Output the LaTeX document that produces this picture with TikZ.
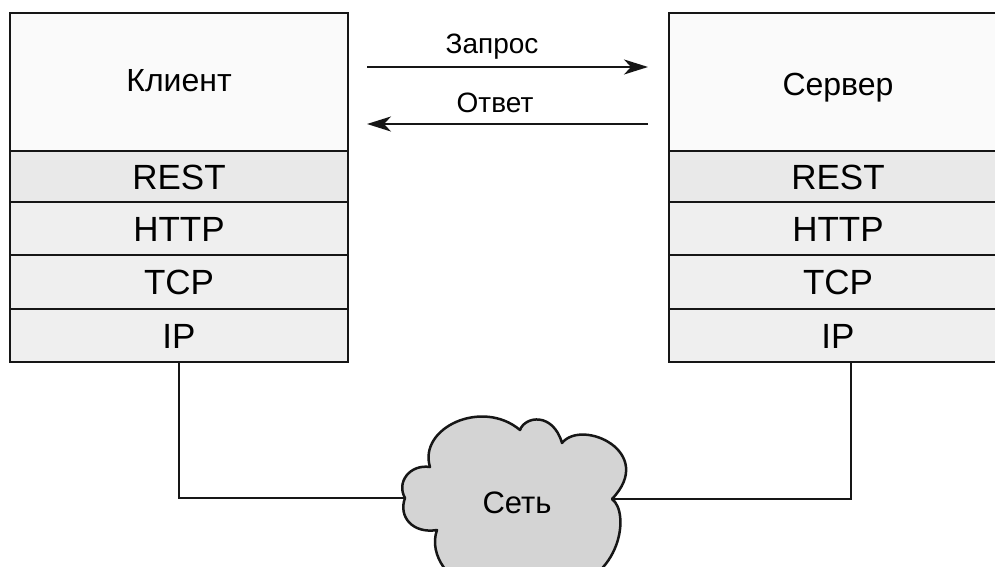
\documentclass[tikz,border=0pt]{standalone}
\usepackage{fontspec}
\setmainfont{Liberation Sans}
\usetikzlibrary{arrows.meta}
\definecolor{edge}{HTML}{161616}
\definecolor{titlefill}{HTML}{FAFAFA}
\definecolor{restfill}{HTML}{E9E9E9}
\definecolor{layerfill}{HTML}{EFEFEF}
\definecolor{cloudfill}{HTML}{D4D4D4}
\begin{document}
\begin{tikzpicture}[x=1pt,y=-1pt,
  box/.style={draw=edge, line width=2.1pt, minimum width=338pt, inner sep=0pt,
    outer sep=0pt, anchor=north west, text height=25pt, text depth=0pt,
    font=\fontsize{35}{40}\selectfont, fill=layerfill},
  titlebox/.style={box, minimum height=138.3pt, fill=titlefill,
    text height=23pt, font=\fontsize{32}{38}\selectfont},
  msg/.style={inner sep=0pt, text height=20pt, text depth=0pt,
    font=\fontsize{28}{32}\selectfont},
  flow/.style={draw=edge, line width=2.1pt,
    -{Stealth[length=24pt,width=15pt,inset=7pt]}},
  wire/.style={draw=edge, line width=2.1pt}]
\clip (0,0) rectangle (995,567);
\fill[white] (0,0) rectangle (995,567);

% client protocol stack
\node[titlebox, text depth=3pt] (client) at (10,12.7) {Клиент};
\node[box, minimum height=51pt, fill=restfill] (restL) at (10,151) {REST};
\node[box, minimum height=53pt] (httpL) at (10,202) {HTTP};
\node[box, minimum height=54pt] (tcpL) at (10,255) {TCP};
\node[box, minimum height=53pt] (ipL) at (10,309) {IP};

% server protocol stack
\node[titlebox, text height=27pt] (server) at (669,12.7) {Сервер};
\node[box, minimum height=51pt, fill=restfill] (restR) at (669,151) {REST};
\node[box, minimum height=53pt] (httpR) at (669,202) {HTTP};
\node[box, minimum height=54pt] (tcpR) at (669,255) {TCP};
\node[box, minimum height=53pt] (ipR) at (669,309) {IP};

% request / response
\coordinate (reqS) at (367,67);
\coordinate (reqE) at (648,67);
\coordinate (resS) at (648,124);
\coordinate (resE) at (367,124);
\draw[flow] (reqS) -- (reqE);
\draw[flow] (resS) -- (resE);
\node[msg] (reqLabel) at (492,44) {Запрос};
\node[msg] (resLabel) at (495,103) {Ответ};

% network cloud
\coordinate (cloudW) at (405,498);
\coordinate (cloudE) at (612,499);
\filldraw[draw=edge, fill=cloudfill, line width=2.5pt, line join=round]
  (cloudW)
  .. controls (396,482) and (410,464) .. (430,467)
  .. controls (418,428) and (482,398) .. (520,430)
  .. controls (525,416) and (553,412) .. (562,443)
  .. controls (582,418) and (657,452) .. (cloudE)
  .. controls (630,512) and (622,580) .. (560,590)
  .. controls (545,605) and (495,605) .. (480,590)
  .. controls (450,585) and (428,555) .. (437,530)
  .. controls (413,534) and (398,517) .. (cloudW) -- cycle;
\node[inner sep=0pt, text height=22pt, text depth=0pt,
  font=\fontsize{31}{36}\selectfont] (net) at (517,502) {Сеть};

% links from the stacks to the network
\draw[wire] (ipL.south) |- (cloudW);
\draw[wire] ([xshift=13pt]ipR.south) |- (cloudE);
\end{tikzpicture}
\end{document}
